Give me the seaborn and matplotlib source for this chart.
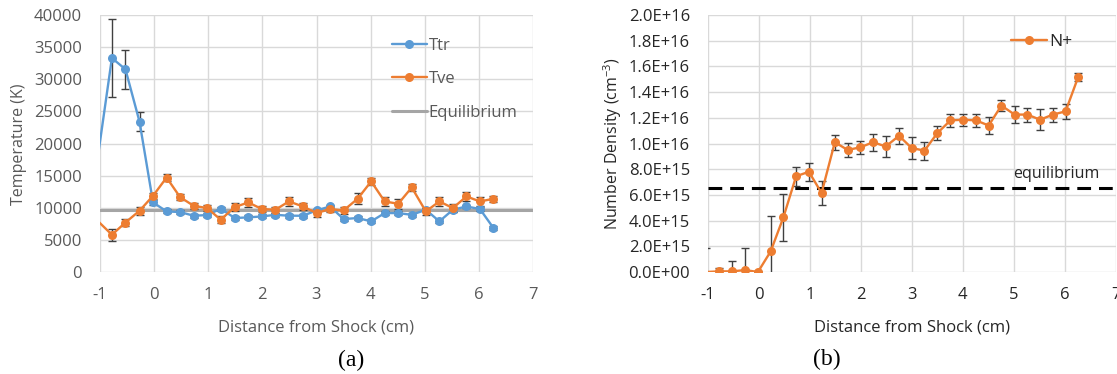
import numpy as np
import pandas as pd
import matplotlib
matplotlib.use("Agg")
import matplotlib.pyplot as plt
import seaborn as sns

# ---------------- data ----------------
distance = [-1.03, -0.78, -0.53, -0.27, -0.02, 0.23, 0.48, 0.73, 0.98, 1.23,
            1.49, 1.74, 1.99, 2.24, 2.49, 2.75, 3.00, 3.25, 3.50, 3.76,
            4.01, 4.26, 4.51, 4.76, 5.02, 5.27, 5.52, 5.77, 6.02, 6.27]

ttr = [18500, 33300, 31550, 23400, 10830, 9430, 9330, 8760, 8860, 9850,
       8400, 8500, 8650, 8900, 8760, 8760, 9580, 10200, 8240, 8400,
       7880, 9170, 9170, 8900, 9690, 7880, 9690, 10200, 9800, 6840]
ttr_err = [500, 6000, 3000, 1500, 400, 300, 300, 300, 300, 300,
           300, 300, 300, 300, 300, 300, 300, 300, 300, 300,
           300, 300, 300, 300, 300, 300, 400, 300, 300, 300]

tve = [7850, 5800, 7700, 9530, 11860, 14700, 11650, 10300, 9950, 8140,
       10100, 10830, 9800, 9690, 10980, 10200, 9170, 9800, 9580, 11400,
       14100, 10980, 10620, 13160, 9430, 10980, 9950, 11760, 10980, 11400]
tve_err = [600, 900, 500, 600, 500, 500, 500, 500, 500, 500,
           600, 700, 500, 500, 750, 600, 600, 500, 600, 850,
           500, 700, 800, 600, 500, 700, 600, 750, 700, 500]

t_equilibrium = 9600

nplus_1e15 = [0.0, 0.05, 0.05, 0.15, 0.0, 1.6, 4.25, 7.45, 7.8, 6.15,
              10.1, 9.5, 9.7, 10.1, 9.77, 10.6, 9.64, 9.45, 10.8, 11.8,
              11.85, 11.8, 11.4, 12.95, 12.25, 12.25, 11.85, 12.25, 12.5, 15.2]
nplus_err_1e15 = [1.9, 0.3, 0.8, 1.7, 0.1, 2.75, 1.8, 0.75, 0.7, 0.95,
                  0.6, 0.55, 0.5, 0.65, 0.8, 0.6, 0.85, 0.7, 0.55, 0.5,
                  0.45, 0.5, 0.65, 0.4, 0.65, 0.55, 0.8, 0.55, 0.6, 0.3]
n_equilibrium_1e15 = 6.5

x_ticks = [-1, 0, 1, 2, 3, 4, 5, 6, 7]
t_ticks = [0, 5000, 10000, 15000, 20000, 25000, 30000, 35000, 40000]
n_ticks_1e15 = [0, 2, 4, 6, 8, 10, 12, 14, 16, 18, 20]

# ---------------- style ----------------
sns.set_theme(style="whitegrid")
plt.rcParams["font.family"] = ["Open Sans", "DejaVu Sans"]
plt.rcParams["mathtext.fontset"] = "custom"
plt.rcParams["mathtext.rm"] = "Open Sans"
plt.rcParams["mathtext.it"] = "Open Sans"

BLUE = "#5B9BD5"
ORANGE = "#ED7D31"
GRID = "#d9d9d9"
ERR = "#404040"
GRAYTXT = "#595959"
DARKTXT = "#262626"

W, H = 1117, 374
fig = plt.figure(figsize=(W / 100, H / 100), dpi=100)
fig.patch.set_facecolor("white")

axL = fig.add_axes([100 / W, 1 - 272 / H, 433 / W, 257 / H])
axR = fig.add_axes([708 / W, 1 - 272 / H, 407.5 / W, 257 / H])

dfT = pd.DataFrame({"x": distance, "Ttr": ttr, "Tve": tve})
dfN = pd.DataFrame({"x": distance, "N": np.array(nplus_1e15) * 1e15})
visible = list(range(1, len(distance)))  # first point lies left of the axis

# ---- left panel ----
ax = axL
ax.axhline(t_equilibrium, color="#a5a5a5", lw=2.2, zorder=2, label="Equilibrium")
ax.errorbar(distance[1:], ttr[1:], yerr=ttr_err[1:], fmt="none", ecolor=ERR,
            elinewidth=1, capsize=2.6, capthick=1, zorder=3)
ax.errorbar(distance[1:], tve[1:], yerr=tve_err[1:], fmt="none", ecolor=ERR,
            elinewidth=1, capsize=2.6, capthick=1, zorder=3)
sns.lineplot(data=dfT, x="x", y="Ttr", ax=ax, color=BLUE, marker="o",
             markersize=6.5, markeredgewidth=0, lw=1.7, label="Ttr", zorder=4,
             sort=False, markevery=visible)
sns.lineplot(data=dfT, x="x", y="Tve", ax=ax, color=ORANGE, marker="o",
             markersize=6.5, markeredgewidth=0, lw=1.7, label="Tve", zorder=5,
             sort=False, markevery=visible)
ax.set_xlim(-1, 7)
ax.set_ylim(0, 40000)
ax.set_xticks(x_ticks)
ax.set_yticks(t_ticks)
ax.set_xticklabels([str(v) for v in x_ticks])
ax.set_yticklabels([str(v) for v in t_ticks])
ax.set_xlabel("Distance from Shock (cm)", fontsize=12, color=GRAYTXT)
ax.set_ylabel("Temperature (K)", fontsize=11.5, color=GRAYTXT)
ax.xaxis.set_label_coords(0.5, -0.183)
ax.yaxis.set_label_coords(-0.168, 0.498)
ax.tick_params(axis="both", length=0, labelsize=12, colors=GRAYTXT)
ax.tick_params(axis="y", pad=13)
ax.tick_params(axis="x", pad=11)
h, l = ax.get_legend_handles_labels()
order = [l.index("Ttr"), l.index("Tve"), l.index("Equilibrium")]
leg = ax.legend([h[i] for i in order], [l[i] for i in order],
                loc="upper left", bbox_to_anchor=(0.674, 0.912), frameon=False,
                borderpad=0, borderaxespad=0, handlelength=2.1,
                handletextpad=0.12, labelspacing=1.05, fontsize=12)
for t in leg.get_texts():
    t.set_color(GRAYTXT)

# ---- right panel ----
ax = axR
ax.axhline(n_equilibrium_1e15 * 1e15, color="black", lw=2.2, ls=(0, (4.5, 2.6)),
           zorder=2)
ax.errorbar(distance, dfN["N"], yerr=np.array(nplus_err_1e15) * 1e15, fmt="none",
            ecolor=ERR, elinewidth=1, capsize=2.6, capthick=1, zorder=3)
sns.lineplot(data=dfN, x="x", y="N", ax=ax, color=ORANGE, marker="o",
             markersize=6.5, markeredgewidth=0, lw=1.7, label="N+", zorder=4,
             sort=False, markevery=visible)
ax.text(5.0, 7.63e15, "equilibrium", fontsize=11.5, color=DARKTXT,
        ha="left", va="center")
ax.set_xlim(-1, 7)
ax.set_ylim(0, 2e16)
ax.set_xticks(x_ticks)
ax.set_xticklabels([str(v) for v in x_ticks])
ax.set_yticks([v * 1e15 for v in n_ticks_1e15])
ax.set_yticklabels([f"{v * 1e15:.1E}" for v in n_ticks_1e15])
ax.set_xlabel("Distance from Shock (cm)", fontsize=12, color=DARKTXT)
ax.set_ylabel("Number Density (cm$^{-3}$)", fontsize=11.5, color=DARKTXT)
ax.xaxis.set_label_coords(0.5, -0.183)
ax.yaxis.set_label_coords(-0.205, 0.498)
ax.tick_params(axis="both", length=0, labelsize=12, colors=DARKTXT)
ax.tick_params(axis="y", pad=13)
ax.tick_params(axis="x", pad=11)
leg = ax.legend(loc="upper left", bbox_to_anchor=(0.7436, 0.925), frameon=False,
                borderpad=0, borderaxespad=0, handlelength=2.1,
                handletextpad=0.12, fontsize=12.5)
for t in leg.get_texts():
    t.set_color(DARKTXT)

for ax in (axL, axR):
    ax.set_facecolor("white")
    ax.grid(True, color=GRID, lw=1)
    for s in ax.spines.values():
        s.set_visible(False)
    ax.set_axisbelow(True)

fig.text(351 / W, 1 - 360 / H, "(a)", fontsize=17, family="Liberation Serif",
         ha="center", va="center", color="black")
fig.text(827 / W, 1 - 359 / H, "(b)", fontsize=17, family="Liberation Serif",
         ha="center", va="center", color="black")

fig.savefig("out.png", dpi=100, facecolor="white")
